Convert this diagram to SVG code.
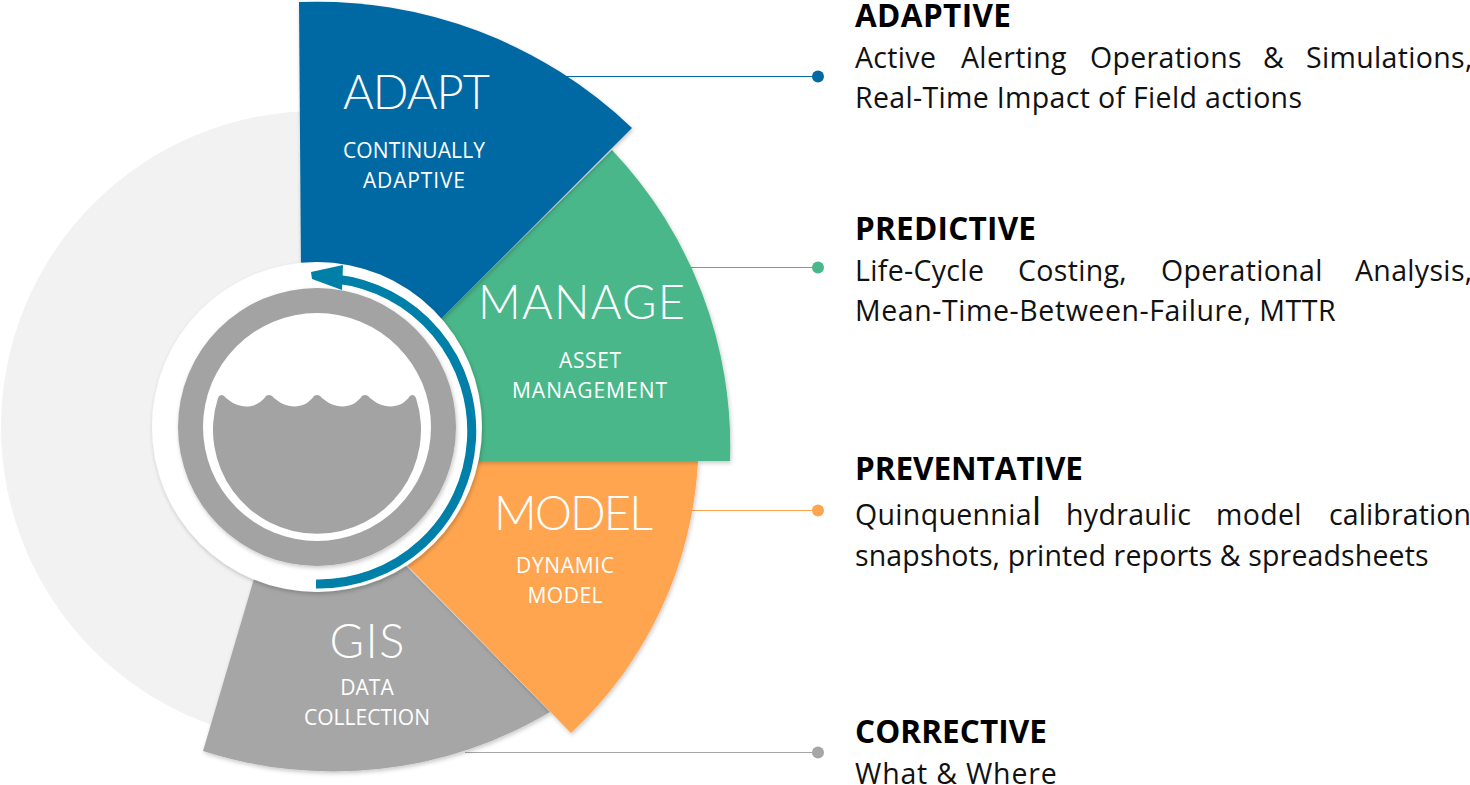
<svg xmlns="http://www.w3.org/2000/svg" width="1470" height="785" viewBox="0 0 1470 785">
<style>
.h{font:700 31.5px "Open Sans","Noto Sans",sans-serif;fill:#000}
.b{font:400 28.5px "Open Sans","Noto Sans",sans-serif;fill:#111;letter-spacing:.33px}
.t{font:300 47px Lato,"Liberation Sans",sans-serif;fill:#fff;text-anchor:middle}
.s{font:400 21px "Open Sans","Noto Sans",sans-serif;fill:#fff;text-anchor:middle}
.c{fill:none;stroke-width:1}
</style>
<defs><filter id="sh" x="-10%" y="-10%" width="120%" height="120%"><feDropShadow dx="1" dy="2" stdDeviation="2" flood-color="#000" flood-opacity=".22"/></filter></defs>
<circle id="backdrop" cx="317" cy="427" r="316" fill="#f2f2f2"/>
<g id="connectors">
<path class="c" stroke="#0369a3" d="M560,76.5H818"/>
<path class="c" stroke="#48b78a" d="M685,267.5H818"/>
<path class="c" stroke="#ffa550" d="M690,510.5H818"/>
<path class="c" stroke="#a6a6a6" d="M465,752.5H818"/>
<circle cx="818" cy="76.5" r="6" fill="#0369a3"/>
<circle cx="818" cy="267.5" r="6" fill="#48b78a"/>
<circle cx="818" cy="510.5" r="6" fill="#ffa550"/>
<circle cx="818" cy="752.5" r="6" fill="#a6a6a6"/>
</g>
<g id="gis"><path filter="url(#sh)" fill="#a6a6a6" d="M256,572L203,751A425,425 0 0 0 550,712L405,565Z"/>
<text class="t" x="367" y="658" textLength="75">GIS</text><text class="s" x="367" y="695">DATA</text><text class="s" x="367" y="725" textLength="126">COLLECTION</text></g>
<g id="model"><path filter="url(#sh)" fill="#ffa550" d="M470,461H698A400,400 0 0 1 571,733L405,563Z"/>
<text class="t" x="573.500" y="530" textLength="159">MODEL</text><text class="s" x="565" y="573" textLength="98">DYNAMIC</text><text class="s" x="565" y="603" textLength="75">MODEL</text></g>
<g id="manage"><path filter="url(#sh)" fill="#48b78a" d="M430,330L612,150A430,430 0 0 1 730,461H470Z"/>
<text class="t" x="581.500" y="319" textLength="207">MANAGE</text><text class="s" x="590" y="368" textLength="62">ASSET</text><text class="s" x="589.500" y="398" textLength="155">MANAGEMENT</text></g>
<g id="adapt"><path filter="url(#sh)" fill="#0369a3" d="M299,2A455,455 0 0 1 632,128L440,320L301,270Z"/>
<text class="t" x="416.500" y="109" textLength="147">ADAPT</text><text class="s" x="414" y="158" textLength="142">CONTINUALLY</text><text class="s" x="414" y="188" textLength="102">ADAPTIVE</text></g>
<g id="hub">
<circle filter="url(#sh)" cx="317" cy="427" r="165" fill="#fff"/>
<circle filter="url(#sh)" cx="317" cy="427" r="139" fill="#a3a3a3"/>
<circle cx="317" cy="427" r="114" fill="#fff"/>
<path fill="#a3a3a3" d="M218,398Q220,393 224,396C238,410 256,410 266,396Q269,394 272,396C286,410 304,410 314,396Q317,394 320,396C334,410 352,410 362,396Q365,394 368,396C382,410 400,410 410,396Q414,393 416,398A104,104 0 1 1 218,398Z"/>
<path fill="none" stroke="#0080a8" stroke-width="9" d="M316,584A153,153 0 0 0 336,279"/>
<polygon fill="#0080a8" points="311,272 343,265 342,290 312,279"/>
</g>
<g id="adaptive-text"><text class="h" x="855" y="27" textLength="156">ADAPTIVE</text>
<text class="b" y="68"><tspan x="855">Active</tspan><tspan x="961">Alerting</tspan><tspan x="1090">Operations</tspan><tspan x="1263">&amp;</tspan><tspan x="1306">Simulations,</tspan></text>
<text class="b" x="855" y="108">Real-Time Impact of Field actions</text></g>
<g id="predictive-text"><text class="h" x="855" y="240" textLength="181">PREDICTIVE</text>
<text class="b" y="281"><tspan x="855">Life-Cycle</tspan><tspan x="1018">Costing,</tspan><tspan x="1161">Operational</tspan><tspan x="1355">Analysis,</tspan></text>
<text class="b" x="855" y="321" textLength="481">Mean-Time-Between-Failure, MTTR</text></g>
<g id="preventative-text"><text class="h" x="855" y="480" textLength="228">PREVENTATIVE</text>
<text class="b" y="525"><tspan x="855">Quinquennia</tspan><tspan font-size="38">l</tspan><tspan x="1066">hydraulic</tspan><tspan x="1216">model</tspan><tspan x="1329" letter-spacing=".12">calibration</tspan></text>
<text class="b" x="855" y="566" textLength="574">snapshots, printed reports &amp; spreadsheets</text></g>
<g id="corrective-text"><text class="h" x="855" y="743" textLength="192">CORRECTIVE</text>
<text class="b" x="855" y="784" textLength="202">What &amp; Where</text></g>
</svg>
